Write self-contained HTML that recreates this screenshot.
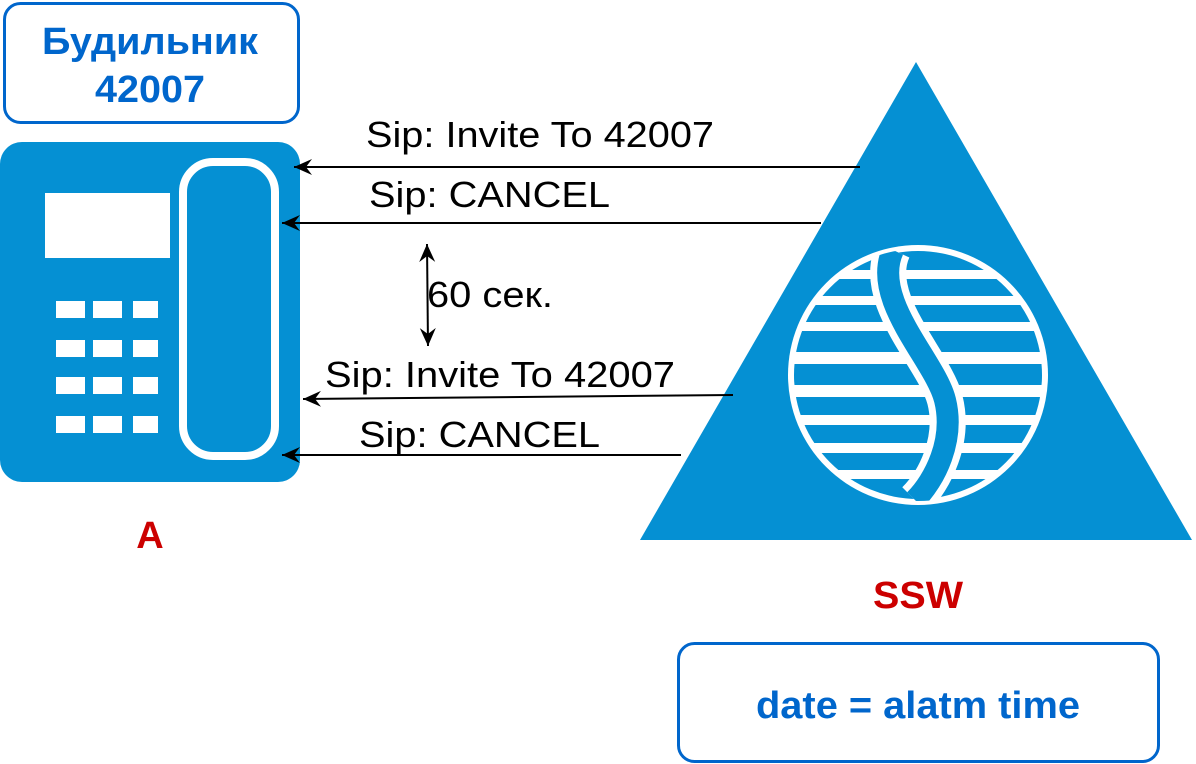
<!DOCTYPE html>
<html><head><meta charset="utf-8"><style>html,body{margin:0;padding:0;background:#fff}svg{display:block}</style></head>
<body>
<svg width="1196" height="764" viewBox="0 0 1196 764" xmlns="http://www.w3.org/2000/svg" font-family="Liberation Sans, Arial, sans-serif">
<defs>
<marker id="ar2" viewBox="0 0 20 20" refX="18" refY="10" markerWidth="20" markerHeight="20" markerUnits="userSpaceOnUse" orient="auto-start-reverse"><path d="M0,2 L18,10 L0,18 L6,10 z" fill="#000"/></marker>
<clipPath id="cc"><circle cx="918" cy="375" r="126"/></clipPath>
</defs>
<rect x="4.5" y="3.5" width="294" height="119" rx="16" fill="#fff" stroke="#0066CC" stroke-width="3"/>
<text x="150" y="54" text-anchor="middle" font-size="38" font-weight="bold" fill="#0066CC" textLength="216" lengthAdjust="spacingAndGlyphs">Будильник</text>
<text x="150" y="102" text-anchor="middle" font-size="38" font-weight="bold" fill="#0066CC" textLength="110" lengthAdjust="spacingAndGlyphs">42007</text>
<rect x="0" y="142" width="300" height="340" rx="22" fill="#0590D3"/>
<rect x="45" y="193" width="125" height="65" fill="#fff"/>
<g fill="#fff">
<rect x="56" y="301" width="29" height="17"/><rect x="93" y="301" width="29" height="17"/><rect x="133" y="301" width="25" height="17"/>
<rect x="56" y="340" width="29" height="17"/><rect x="93" y="340" width="29" height="17"/><rect x="133" y="340" width="25" height="17"/>
<rect x="56" y="377" width="29" height="17"/><rect x="93" y="377" width="29" height="17"/><rect x="133" y="377" width="25" height="17"/>
<rect x="56" y="416" width="29" height="17"/><rect x="93" y="416" width="29" height="17"/><rect x="133" y="416" width="25" height="17"/>
</g>
<rect x="183" y="162" width="92" height="294" rx="30" fill="none" stroke="#fff" stroke-width="8"/>
<polygon points="916,62 640,540 1192,540" fill="#0590D3"/>
<circle cx="918" cy="375" r="130" fill="#fff"/>
<circle cx="918" cy="375" r="124" fill="#0590D3"/>
<g clip-path="url(#cc)" fill="#fff">
<rect x="780" y="270" width="280" height="9"/>
<rect x="780" y="296" width="280" height="9"/>
<rect x="780" y="322" width="280" height="9"/>
<rect x="780" y="352" width="280" height="12"/>
<rect x="780" y="385" width="280" height="12"/>
<rect x="780" y="415" width="280" height="10"/>
<rect x="780" y="443" width="280" height="10"/>
<rect x="780" y="470" width="280" height="9"/>
</g>
<path d="M893 250 C870 300,935 360,945 400 C955 440,935 480,915 500" fill="none" stroke="#fff" stroke-width="36" clip-path="url(#cc)"/>
<path d="M893 250 C870 300,935 360,945 400 C955 440,935 480,915 500" fill="none" stroke="#0590D3" stroke-width="22" clip-path="url(#cc)"/>
<g stroke="#000" stroke-width="2" fill="none">
<line x1="860" y1="167" x2="294" y2="167" marker-end="url(#ar2)"/>
<line x1="821" y1="223" x2="282" y2="223" marker-end="url(#ar2)"/>
<line x1="733" y1="395" x2="303" y2="399" marker-end="url(#ar2)"/>
<line x1="681" y1="455" x2="282" y2="455" marker-end="url(#ar2)"/>
<line x1="427" y1="244" x2="428" y2="346" marker-start="url(#ar2)" marker-end="url(#ar2)"/>
</g>
<g font-size="36" fill="#000">
<text x="366" y="147" textLength="348" lengthAdjust="spacingAndGlyphs">Sip: Invite To 42007</text>
<text x="369" y="207" textLength="241" lengthAdjust="spacingAndGlyphs">Sip: CANCEL</text>
<text x="427" y="307" textLength="126" lengthAdjust="spacingAndGlyphs">60 сек.</text>
<text x="325" y="387" textLength="350" lengthAdjust="spacingAndGlyphs">Sip: Invite To 42007</text>
<text x="359" y="447" textLength="241" lengthAdjust="spacingAndGlyphs">Sip: CANCEL</text>
</g>
<text x="150" y="548" text-anchor="middle" font-size="38" font-weight="bold" fill="#CC0000">A</text>
<text x="918" y="608" text-anchor="middle" font-size="38" font-weight="bold" fill="#CC0000" textLength="90" lengthAdjust="spacingAndGlyphs">SSW</text>
<rect x="678.5" y="643.5" width="480" height="118" rx="16" fill="#fff" stroke="#0066CC" stroke-width="3"/>
<text x="918" y="718" text-anchor="middle" font-size="38" font-weight="bold" fill="#0066CC" textLength="324" lengthAdjust="spacingAndGlyphs">date = alatm time</text>
</svg>
</body></html>
